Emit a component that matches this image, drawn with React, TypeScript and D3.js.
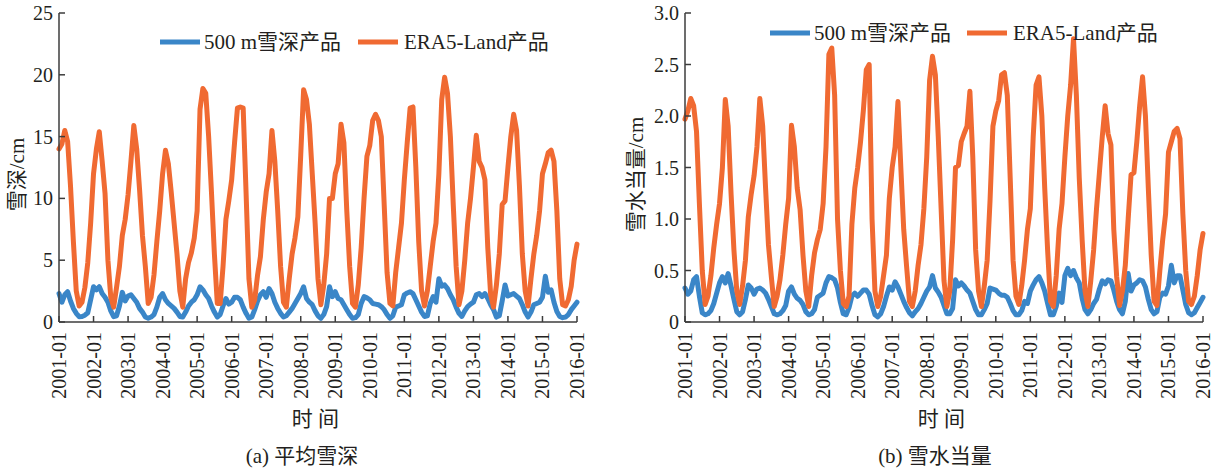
import React from "react";
import * as d3 from "d3";

// ---------- data ----------
const tickLabels = [
  "2001-01", "2002-01", "2003-01", "2004-01", "2005-01", "2006-01", "2007-01", "2008-01",
  "2009-01", "2010-01", "2011-01", "2012-01", "2013-01", "2014-01", "2015-01", "2016-01",
];

const seriesNames = ["500 m雪深产品", "ERA5-Land产品"];

// (a) mean snow depth, cm, monthly 2001-01 .. 2016-01
const depthModis = [
  2.3, 1.6, 2.2, 2.45, 1.7, 1.1, 0.7, 0.43, 0.45, 0.55, 0.75, 1.8,
  2.85, 2.6, 2.85, 2.3, 2.0, 1.6, 0.9, 0.43, 0.5, 1.3, 2.4, 1.7,
  2.1, 2.2, 1.9, 1.6, 1.1, 0.8, 0.4, 0.3, 0.4, 0.6, 1.2, 2.0,
  2.3, 1.8, 1.5, 1.3, 1.1, 0.8, 0.45, 0.4, 0.8, 1.3, 1.6, 1.8,
  2.2, 2.85, 2.6, 2.2, 1.9, 1.3, 0.8, 0.4, 0.6, 1.3, 1.9, 1.45,
  1.6, 2.0, 2.0, 1.8, 1.2, 0.7, 0.3, 0.4, 1.0, 1.7, 2.2, 2.45,
  2.0, 2.7, 2.3, 1.6, 1.1, 0.7, 0.4, 0.5, 0.8, 1.1, 1.5, 1.9,
  2.3, 2.85, 1.9, 1.6, 1.4, 0.9, 0.5, 0.3, 0.6, 1.25, 2.85, 2.05,
  2.45, 1.9, 1.8, 1.4, 1.0, 0.6, 0.3, 0.35, 0.6, 1.5, 2.05, 1.95,
  1.8, 1.5, 1.45, 1.4, 1.25, 1.0, 0.6, 0.3, 0.5, 1.2, 1.3, 1.4,
  2.2, 2.35, 2.45, 2.3, 1.8, 1.3, 0.8, 0.45, 0.5, 1.5, 2.05, 1.6,
  3.5, 2.9, 3.0, 2.7, 2.2, 1.8, 1.2, 0.7, 0.45, 0.9, 1.25, 1.45,
  1.6, 2.2, 2.3, 2.05, 2.3, 1.9, 1.4, 1.0, 0.4, 0.5, 1.7, 3.0,
  2.1, 2.2, 2.3, 2.1, 1.9, 1.4, 0.8, 0.4, 0.8, 1.4, 1.5, 1.6,
  2.0, 3.7, 2.4, 2.6, 1.6, 0.85, 0.45, 0.35, 0.4, 0.6, 1.0, 1.3,
  1.6,
];

const depthEra5 = [
  14.0, 14.4, 15.5, 14.6, 11.0, 6.5, 2.5, 1.3, 1.6, 2.8, 4.8, 8.0,
  12.0, 14.0, 15.4, 13.0, 10.4, 5.0, 2.0, 1.2, 2.8, 4.5, 7.0, 8.3,
  10.3, 13.0, 15.9, 14.0, 10.7, 7.0, 4.5, 1.5, 2.0, 3.8, 6.5, 9.0,
  12.0, 13.9, 12.8, 10.5, 8.0, 5.5, 2.5, 1.2, 3.5, 4.8, 5.6, 6.8,
  9.0, 17.2, 18.9, 18.5, 15.0, 10.4, 5.5, 1.5, 1.5, 4.5, 8.3, 9.8,
  11.5, 14.5, 17.3, 17.4, 17.3, 10.5, 3.5, 1.2, 1.8, 3.8, 5.3, 8.3,
  10.5, 12.0, 15.5, 13.0, 9.0, 4.5, 1.6, 1.2, 3.5, 5.5, 6.8, 8.5,
  13.5, 18.8, 18.0, 16.0, 12.0, 8.0, 3.5, 1.4, 3.0, 5.5, 10.0, 10.0,
  12.0, 12.8, 16.0, 14.5, 9.0, 4.5, 1.5, 1.2, 3.0, 6.0, 10.0, 13.4,
  14.3, 16.3, 16.8, 16.3, 15.0, 9.5, 4.0, 1.5, 1.3, 4.0, 6.0, 8.0,
  11.5, 14.5, 17.3, 17.4, 12.5, 6.5, 2.5, 1.3, 2.5, 4.5, 6.5, 8.0,
  12.0, 18.0, 19.8, 18.5, 15.0, 9.5, 4.5, 1.4, 2.5, 5.0, 8.0, 10.0,
  12.5, 15.1, 13.0, 12.5, 11.5, 6.0, 2.2, 1.2, 3.0, 5.5, 9.5, 9.8,
  12.5, 15.0, 16.8, 15.5, 11.0, 5.5, 2.5, 1.3, 3.5, 5.5, 7.0, 9.0,
  12.0, 12.8, 13.7, 13.9, 13.0, 9.0, 3.5, 1.4, 1.3, 1.8, 2.9, 5.0,
  6.3,
];

// (b) snow water equivalent, cm
const sweModis = [
  0.33, 0.27, 0.30, 0.41, 0.44, 0.25, 0.09, 0.07, 0.08, 0.11, 0.18, 0.28,
  0.38, 0.44, 0.38, 0.47, 0.35, 0.22, 0.10, 0.07, 0.10, 0.22, 0.36, 0.33,
  0.27, 0.32, 0.33, 0.31, 0.28, 0.22, 0.15, 0.08, 0.07, 0.08, 0.11, 0.16,
  0.30, 0.34, 0.27, 0.23, 0.21, 0.17, 0.10, 0.07, 0.08, 0.12, 0.24, 0.26,
  0.28, 0.38, 0.44, 0.43, 0.41, 0.33, 0.19, 0.08, 0.07, 0.14, 0.25, 0.28,
  0.25, 0.28, 0.31, 0.31, 0.27, 0.16, 0.07, 0.05, 0.08, 0.15, 0.25, 0.34,
  0.31, 0.39, 0.34, 0.27, 0.20, 0.14, 0.09, 0.06, 0.10, 0.13, 0.18, 0.24,
  0.30, 0.34, 0.45, 0.33, 0.29, 0.24, 0.16, 0.08, 0.08, 0.13, 0.41, 0.35,
  0.38, 0.35, 0.31, 0.28, 0.20, 0.12, 0.07, 0.07, 0.12, 0.18, 0.33, 0.32,
  0.31, 0.28, 0.26, 0.26, 0.24, 0.18, 0.11, 0.07, 0.07, 0.11, 0.20, 0.18,
  0.30, 0.36, 0.41, 0.44, 0.38, 0.30, 0.18, 0.07, 0.07, 0.15, 0.28, 0.19,
  0.45, 0.52, 0.45, 0.50, 0.43, 0.38, 0.23, 0.12, 0.08, 0.12, 0.18, 0.22,
  0.32, 0.40, 0.37, 0.41, 0.40, 0.31, 0.20, 0.12, 0.08, 0.20, 0.47, 0.30,
  0.36, 0.38, 0.41, 0.40, 0.34, 0.22, 0.12, 0.08, 0.10, 0.24, 0.28, 0.27,
  0.35, 0.55, 0.38, 0.45, 0.45, 0.31, 0.17, 0.09, 0.07, 0.09, 0.14, 0.19,
  0.24,
];

const sweEra5 = [
  1.97, 2.05, 2.17, 2.10, 1.85, 1.15, 0.5, 0.17, 0.25, 0.45, 0.72, 0.95,
  1.15, 1.5, 2.16, 1.9, 1.25, 0.7, 0.3, 0.17, 0.35, 0.6, 1.02, 1.24,
  1.42, 1.7, 2.17, 1.9, 1.3, 0.75, 0.44, 0.15, 0.25, 0.41, 0.65, 0.95,
  1.2, 1.91, 1.7, 1.3, 1.09, 0.65, 0.3, 0.15, 0.45, 0.67, 0.8, 0.9,
  1.15, 1.7, 2.6, 2.66, 2.2, 1.0, 0.5, 0.18, 0.15, 0.25, 0.95, 1.3,
  1.5, 1.75, 2.06, 2.45, 2.5, 1.0, 0.3, 0.15, 0.25, 0.45, 0.65, 1.2,
  1.5, 1.7, 2.14, 1.5, 0.9, 0.54, 0.2, 0.15, 0.3, 0.55, 0.75, 1.1,
  1.6, 2.35, 2.58, 2.4, 1.8, 1.1, 0.4, 0.15, 0.3, 0.8, 1.5, 1.52,
  1.75, 1.83, 1.9, 2.24, 1.6, 0.7, 0.3, 0.15, 0.35, 0.6, 1.18, 1.9,
  2.05, 2.15, 2.4, 2.42, 2.2, 1.4, 0.6, 0.25, 0.17, 0.35, 0.6, 0.9,
  1.1, 1.8, 2.3, 2.38, 2.0, 1.3, 0.7, 0.2, 0.15, 0.45, 0.9, 1.15,
  1.6, 2.0, 2.3, 2.75, 2.2, 1.4, 0.8, 0.3, 0.15, 0.4, 0.7, 1.1,
  1.45, 1.8, 2.1, 1.83, 1.72, 0.9, 0.44, 0.16, 0.3, 0.55, 1.0, 1.43,
  1.45, 1.75, 2.1, 2.38, 2.0, 1.3, 0.65, 0.2, 0.16, 0.5, 0.8, 1.05,
  1.65, 1.75, 1.85, 1.88, 1.78, 1.05, 0.5, 0.2, 0.17, 0.25, 0.45, 0.7,
  0.86,
];

const depthTicks = [0, 5, 10, 15, 20, 25];
const sweTicks = [0, 0.5, 1.0, 1.5, 2.0, 2.5, 3.0];

// ---------- style ----------
const BLUE = "#3a86c8";
const ORANGE = "#f06a32";
const AXIS = "#3c3c3c";
const TEXT = "#231f20";
const FONT = "'Liberation Serif', 'DejaVu Serif', 'Times New Roman', 'Noto Sans CJK SC', serif";

type PanelProps = {
  left: number;
  right: number;
  top: number;
  bottom: number;
  yMax: number;
  yTicks: number[];
  fmt: (v: number) => string;
  blue: number[];
  orange: number[];
  yTitle: string;
  yTitleX: number;
  caption: string;
  captionX: number;
  legendY: number;
  legendBlueX: number;
  legendOrangeX: number;
};

function Panel(p: PanelProps) {
  const n = p.blue.length - 1;
  const x = d3.scaleLinear().domain([0, n]).range([p.left, p.right]);
  const y = d3.scaleLinear().domain([0, p.yMax]).range([p.bottom, p.top]);
  const line = d3
    .line<number>()
    .x((_, i) => x(i))
    .y((d) => y(d));
  const cx = (p.left + p.right) / 2;
  const ts = { fontFamily: FONT };
  return (
    <g style={ts} fill={TEXT}>
      {/* series */}
      <path d={line(p.blue) || ""} fill="none" stroke={BLUE} strokeWidth={5} strokeLinejoin="round" strokeLinecap="round" />
      <path d={line(p.orange) || ""} fill="none" stroke={ORANGE} strokeWidth={5} strokeLinejoin="round" strokeLinecap="round" />
      {/* axes */}
      <line x1={p.left} x2={p.left} y1={p.top} y2={p.bottom} stroke={AXIS} strokeWidth={1.5} />
      <line x1={p.left} x2={p.right} y1={p.bottom} y2={p.bottom} stroke={AXIS} strokeWidth={1.5} />
      {p.yTicks.map((t) => (
        <g key={"y" + t}>
          <line x1={p.left} x2={p.left + 6} y1={y(t)} y2={y(t)} stroke={AXIS} strokeWidth={1.5} />
          <text x={p.left - 6} y={y(t)} textAnchor="end" dominantBaseline="central" fontSize={20} style={ts}>
            {p.fmt(t)}
          </text>
        </g>
      ))}
      {tickLabels.map((lab, i) => {
        const xx = x(i * 12);
        return (
          <g key={lab}>
            <line x1={xx} x2={xx} y1={p.bottom} y2={p.bottom - 6} stroke={AXIS} strokeWidth={1.5} />
            <text
              transform={`translate(${xx},${p.bottom + 10}) rotate(-90)`}
              textAnchor="end"
              dominantBaseline="central"
              fontSize={20}
              style={ts}
            >
              {lab}
            </text>
          </g>
        );
      })}
      {/* titles */}
      <text
        transform={`translate(${p.yTitleX},${(p.top + p.bottom) / 2 + 7}) rotate(-90)`}
        textAnchor="middle"
        dominantBaseline="central"
        fontSize={21}
        style={ts}
      >
        {p.yTitle}
      </text>
      <text x={cx} y={426} textAnchor="middle" fontSize={21} letterSpacing="0.25em" style={ts}>
        时间
      </text>
      <text x={p.captionX} y={463} textAnchor="middle" fontSize={21} style={ts}>
        {p.caption}
      </text>
      {/* legend */}
      <line x1={p.legendBlueX} x2={p.legendBlueX + 40} y1={p.legendY} y2={p.legendY} stroke={BLUE} strokeWidth={5} />
      <text x={p.legendBlueX + 44} y={p.legendY} dominantBaseline="central" fontSize={21} style={ts}>
        {seriesNames[0]}
      </text>
      <line x1={p.legendOrangeX} x2={p.legendOrangeX + 40} y1={p.legendY} y2={p.legendY} stroke={ORANGE} strokeWidth={5} />
      <text x={p.legendOrangeX + 46} y={p.legendY} dominantBaseline="central" fontSize={21} style={ts}>
        {seriesNames[1]}
      </text>
    </g>
  );
}

export default function App() {
  return (
    <svg
      width={1226}
      height={469}
      viewBox="0 0 1226 469"
      style={{ position: "absolute", left: 0, top: 0, background: "#fff" }}
    >
      <rect width={1226} height={469} fill="#fff" />
      <Panel
        left={59}
        right={577}
        top={13}
        bottom={322}
        yMax={25}
        yTicks={depthTicks}
        fmt={(v) => String(v)}
        blue={depthModis}
        orange={depthEra5}
        yTitle="雪深/cm"
        yTitleX={17}
        caption="(a) 平均雪深"
        captionX={302}
        legendY={42}
        legendBlueX={160}
        legendOrangeX={358}
      />
      <Panel
        left={685}
        right={1203}
        top={13}
        bottom={322}
        yMax={3}
        yTicks={sweTicks}
        fmt={(v) => (v === 0 ? "0" : v.toFixed(1))}
        blue={sweModis}
        orange={sweEra5}
        yTitle="雪水当量/cm"
        yTitleX={636}
        caption="(b) 雪水当量"
        captionX={935}
        legendY={33}
        legendBlueX={770}
        legendOrangeX={967}
      />
    </svg>
  );
}
